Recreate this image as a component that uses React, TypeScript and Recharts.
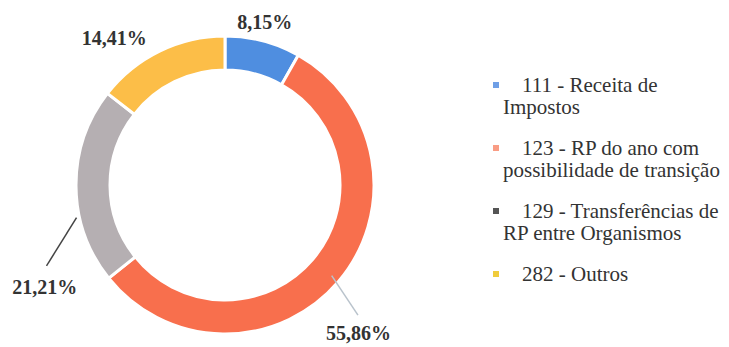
import { PieChart, Pie, Cell, Legend } from 'recharts';

const categories = [
  '111 - Receita de Impostos',
  '123 - RP do ano com possibilidade de transição',
  '129 - Transferências de RP entre Organismos',
  '282 - Outros',
];
const shares = [8.15, 55.86, 21.21, 14.41];

const COLORS = ['#4f8ee0', '#f86f4d', '#b5afb2', '#fcbe48'];
const MARKER_COLORS = ['#6f9fe6', '#f99c84', '#555555', '#f0cc3c'];
const FONT = "'Liberation Serif', 'Times New Roman', 'DejaVu Serif', serif";

// label placement relative to each slice's mid angle (deg offset, radius)
const LABEL_LAYOUT = [
  { da: 1, r: 168, line: null, lineColor: '' },
  { da: -7.5, r: 199, line: [0, 140, -4, 186], lineColor: '#b9c3cc' },
  { da: 29, r: 207, line: [12, 152, 24, 196], lineColor: '#444444' },
  { da: 11, r: 184, line: null, lineColor: '' },
];

const data = categories.map((name, i) => ({ name, value: shares[i] }));

const RADIAN = Math.PI / 180;
const pt = (cx: number, cy: number, angle: number, r: number) => ({
  x: cx + r * Math.cos(-angle * RADIAN),
  y: cy + r * Math.sin(-angle * RADIAN),
});

const renderLabel = (props: any) => {
  const { cx, cy, midAngle, index, value } = props;
  const lay = LABEL_LAYOUT[index];
  const p = pt(cx, cy, midAngle + lay.da, lay.r);
  let line = null;
  if (lay.line) {
    const a = pt(cx, cy, midAngle + lay.line[0], lay.line[1]);
    const b = pt(cx, cy, midAngle + lay.line[2], lay.line[3]);
    line = <line x1={a.x} y1={a.y} x2={b.x} y2={b.y} stroke={lay.lineColor} strokeWidth={1.5} />;
  }
  return (
    <g>
      {line}
      <text
        x={p.x}
        y={p.y}
        textAnchor="middle"
        dominantBaseline="central"
        fontFamily={FONT}
        fontWeight="bold"
        fontSize={20}
        fill="#333"
      >
        {Number(value).toFixed(2).replace('.', ',') + '%'}
      </text>
    </g>
  );
};

const renderLegend = () => (
  <div style={{ fontFamily: FONT, fontSize: 21, lineHeight: '22px', color: '#333' }}>
    {categories.map((c, i) => (
      <div key={c} style={{ position: 'relative', paddingLeft: 13, textIndent: 19, marginBottom: 19, width: 226 }}>
        <span
          style={{
            position: 'absolute',
            left: 3,
            top: 8,
            width: 6,
            height: 6,
            background: MARKER_COLORS[i],
          }}
        />
        {c}
      </div>
    ))}
  </div>
);

export default function App() {
  return (
    <div style={{ position: 'absolute', left: 0, top: 0, background: '#fff' }}>
      <PieChart width={729} height={347} margin={{ top: 0, right: 0, bottom: 0, left: 0 }}>
        <Pie
          data={data}
          dataKey="value"
          nameKey="name"
          cx={225}
          cy={185}
          innerRadius={115}
          outerRadius={149}
          startAngle={90}
          endAngle={-270}
          stroke="#fff"
          strokeWidth={3}
          label={renderLabel}
          labelLine={false}
          isAnimationActive={false}
        >
          {data.map((d, i) => (
            <Cell key={d.name} fill={COLORS[i]} />
          ))}
        </Pie>
        <Legend
          content={renderLegend}
          layout="vertical"
          verticalAlign="top"
          align="right"
          wrapperStyle={{ left: 490, top: 74, width: 239 }}
        />
      </PieChart>
    </div>
  );
}
